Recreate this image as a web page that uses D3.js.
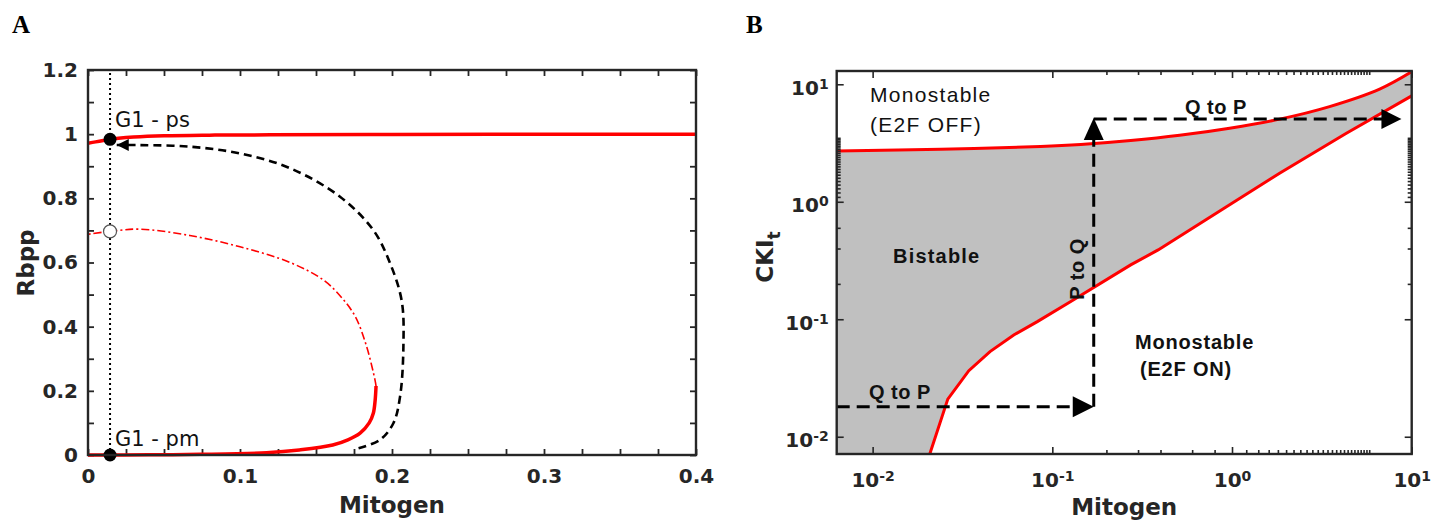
<!DOCTYPE html>
<html><head><meta charset="utf-8">
<script src="https://cdn.jsdelivr.net/npm/d3@7"></script>
<style>
body{margin:0;background:#fff}
svg{display:block}
</style></head>
<body>
<svg id="c" width="1445" height="520"></svg>
<script>
// ---------- Panel A data ----------
const aXLabels = [0, 0.1, 0.2, 0.3, 0.4];
const aXTicks = [0,0.025,0.05,0.075,0.1,0.125,0.15,0.175,0.2,0.225,0.25,0.275,0.3,0.325,0.35,0.375,0.4];
const aYLabels = [0, 0.2, 0.4, 0.6, 0.8, 1, 1.2];
const aYTicks = [0,0.1,0.2,0.3,0.4,0.5,0.6,0.7,0.8,0.9,1,1.1,1.2];
// stable upper branch (mitogen, Rbpp)
const aUpperStable = [[0,0.972],[0.005,0.976],[0.01,0.980],[0.015,0.984],[0.02,0.987],[0.03,0.991],[0.05,0.995],[0.08,0.997],[0.12,0.998],[0.2,0.999],[0.3,1.0],[0.4,1.0]];
// stable lower branch
const aLowerStable = [[0,0],[0.04,0.0005],[0.0737,0.002],[0.1175,0.007],[0.139,0.0156],[0.161,0.031],[0.171,0.047],[0.179,0.068],[0.185,0.10],[0.1877,0.13],[0.1889,0.17],[0.1895,0.215]];
// unstable branch
const aUnstable = [[0.1895,0.215],[0.1888,0.234],[0.1833,0.338],[0.176,0.43],[0.167,0.49],[0.155,0.545],[0.133,0.60],[0.1,0.649],[0.067,0.684],[0.034,0.704],[0.0145,0.697],[0,0.688]];
// trajectory (black dashed)
const aTrajectory = [[0.178,0.021],[0.192,0.047],[0.2009,0.099],[0.2053,0.182],[0.2075,0.338],[0.2064,0.48],[0.1987,0.598],[0.1877,0.701],[0.1658,0.805],[0.1329,0.894],[0.1,0.940],[0.0671,0.961],[0.0342,0.966],[0.0189,0.966]];
const aG1Mitogen = 0.0145;
const aG1ps = 0.984, aG1pm = 0.0, aUnstablePt = 0.697;

// ---------- Panel B data ----------
const bXLabels = [0.01, 0.1, 1, 10];
const bXLabelExp = ["-2", "-1", "0", "1"];
const bXMinor = [0.2,0.3,0.4,0.6,0.8,1.2,1.4,1.6,1.8,2,2.2,2.4,2.6,2.8,3,3.2,3.4,3.6,3.8,4,4.2,4.4,4.6,4.8,5,5.2,5.4,5.6,5.8];
const bYLabels = [0.01, 0.1, 1, 10];
const bYLabelExp = ["-2", "-1", "0", "1"];
const bYMinor = [0.2,0.4,0.6,1.1,1.2,1.3,1.4,1.5,1.6,1.7,1.8,1.9,2,2.1,2.2,2.3,2.4,2.5,2.6,2.7,2.8,2.9,3,3.1,3.2,3.3,3.4,3.5];
const bXDomain = [0.00631, 10];
const bYDomain = [0.00713, 12.97];
// boundaries of bistable region (mitogen, CKIt)
const bUpper = [[0.00631,2.71],[0.024,2.80],[0.086,2.95],[0.144,3.07],[0.273,3.32],[0.511,3.68],[0.97,4.23],[1.84,5.05],[3.49,6.46],[6.63,9.1],[10,12.8]];
const bLower = [[0.0208,0.00713],[0.0262,0.0209],[0.0343,0.0365],[0.045,0.053],[0.061,0.0735],[0.0825,0.0955],[0.126,0.141],[0.273,0.29],[0.388,0.389],[1.0,0.97],[1.84,1.75],[4.33,3.83],[10,7.96]];
// arrow path: Q->P (low), P->Q (up), Q->P (high)
const bArrowX = [0.00631, 0.17, 8.77];
const bArrowY = [0.018, 5.06];

// ---------- drawing ----------
const svg = d3.select("#c");
const INK = "#262626";
const SANS = "'DejaVu Sans', sans-serif";
const ARIAL = "'Liberation Sans', Arial, sans-serif";

// ===== Panel A =====
const xA = d3.scaleLinear().domain([0, 0.4]).range([88, 696]);
const yA = d3.scaleLinear().domain([0, 1.2]).range([455, 70]);
const gA = svg.append("g");
const isIn = (arr, d) => arr.some(v => Math.abs(v - d) < 1e-9);
const fmtA = d => isIn(aXLabels, d) ? d3.format("~g")(d) : "";
const fmtAY = d => isIn(aYLabels, d) ? d3.format("~g")(d) : "";

function styleAxis(g) {
  g.select(".domain").remove();
  g.selectAll(".tick line").attr("stroke", INK).attr("stroke-width", 1.8);
  g.selectAll("text").attr("fill", INK).style("font-family", SANS).style("font-weight", "bold");
}
gA.append("g").attr("transform", "translate(0,455)")
  .call(d3.axisBottom(xA).tickValues(aXTicks).tickSize(-6).tickPadding(14).tickFormat(fmtA))
  .call(styleAxis).selectAll("text").style("font-size", "20px");
gA.append("g").attr("transform", "translate(0,70)")
  .call(d3.axisTop(xA).tickValues(aXTicks).tickSize(-6).tickFormat(""))
  .call(styleAxis);
gA.append("g").attr("transform", "translate(88,0)")
  .call(d3.axisLeft(yA).tickValues(aYTicks).tickSize(-6).tickPadding(10).tickFormat(fmtAY))
  .call(styleAxis).selectAll("text").style("font-size", "20px");
gA.append("g").attr("transform", "translate(696,0)")
  .call(d3.axisRight(yA).tickValues(aYTicks).tickSize(-6).tickFormat(""))
  .call(styleAxis);

const lineA = d3.line().x(d => xA(d[0])).y(d => yA(d[1])).curve(d3.curveCatmullRom.alpha(0.5));
gA.append("path").attr("d", lineA(aUnstable)).attr("fill", "none").attr("stroke", "#ff0000")
  .attr("stroke-width", 1.6).attr("stroke-dasharray", "8,3,2,3");
gA.append("path").attr("d", lineA(aUpperStable)).attr("fill", "none").attr("stroke", "#ff0000").attr("stroke-width", 3.5);
gA.append("path").attr("d", lineA(aLowerStable)).attr("fill", "none").attr("stroke", "#ff0000").attr("stroke-width", 3.5);
gA.append("path").attr("d", lineA(aTrajectory)).attr("fill", "none").attr("stroke", "#000")
  .attr("stroke-width", 2.6).attr("stroke-dasharray", "8,5");
// arrow head of trajectory
{
  const p = aTrajectory[aTrajectory.length - 1];
  const tx = xA(p[0]), ty = yA(p[1]);
  gA.append("path").attr("d", `M${tx},${ty}L${tx + 12},${ty - 6}L${tx + 12},${ty + 6}Z`).attr("fill", "#000");
}
// dotted vertical line
gA.append("line").attr("x1", xA(aG1Mitogen)).attr("x2", xA(aG1Mitogen))
  .attr("y1", yA(0)).attr("y2", yA(1.2)).attr("stroke", "#000").attr("stroke-width", 2).attr("stroke-dasharray", "2,3");
gA.append("circle").attr("cx", xA(aG1Mitogen)).attr("cy", yA(aUnstablePt)).attr("r", 6.5)
  .attr("fill", "#fff").attr("stroke", "#555").attr("stroke-width", 1.2);
gA.append("circle").attr("cx", xA(aG1Mitogen)).attr("cy", yA(aG1ps)).attr("r", 6.5).attr("fill", "#000");
gA.append("circle").attr("cx", xA(aG1Mitogen)).attr("cy", yA(aG1pm)).attr("r", 6.5).attr("fill", "#000");
gA.append("text").attr("x", 115).attr("y", 127).text("G1 - ps")
  .style("font-family", SANS).style("font-size", "21px").attr("fill", "#111");
gA.append("text").attr("x", 115).attr("y", 446).text("G1 - pm")
  .style("font-family", SANS).style("font-size", "21px").attr("fill", "#111");
// box
gA.append("rect").attr("x", 88).attr("y", 70).attr("width", 608).attr("height", 385)
  .attr("fill", "none").attr("stroke", INK).attr("stroke-width", 2.4);
// axis titles
gA.append("text").attr("x", 392).attr("y", 513).attr("text-anchor", "middle").text("Mitogen")
  .style("font-family", SANS).style("font-weight", "bold").style("font-size", "23px").attr("fill", INK);
gA.append("text").attr("transform", "translate(34,263) rotate(-90)").attr("text-anchor", "middle").text("Rbpp")
  .style("font-family", SANS).style("font-weight", "bold").style("font-size", "23px").attr("fill", INK);
svg.append("text").attr("x", 12).attr("y", 33).text("A")
  .style("font-family", "'Liberation Serif', 'Times New Roman', serif").style("font-weight", "bold").style("font-size", "25px");

// ===== Panel B =====
const L = 836.7, R = 1411.7, T = 71, B = 454;
const xB = d3.scaleLog().domain(bXDomain).range([L, R]);
const yB = d3.scaleLog().domain(bYDomain).range([B, T]);
const gB = svg.append("g");
svg.append("clipPath").attr("id", "clipB").append("rect").attr("x", L).attr("y", T).attr("width", R - L).attr("height", B - T);
const gBp = gB.append("g").attr("clip-path", "url(#clipB)");

const lineUp = d3.line().x(d => xB(d[0])).y(d => yB(d[1])).curve(d3.curveCatmullRom.alpha(0.5));
const lineLo = d3.line().x(d => xB(d[0])).y(d => yB(d[1]));
const fillPath = lineUp(bUpper) +
  bLower.slice().reverse().map(p => `L${xB(p[0])},${yB(p[1])}`).join("") +
  `L${xB(bXDomain[0])},${yB(bYDomain[0])}Z`;
gBp.append("path").attr("d", fillPath).attr("fill", "#c0c0c0");
gBp.append("path").attr("d", lineUp(bUpper)).attr("fill", "none").attr("stroke", "#ff0000").attr("stroke-width", 3);
gBp.append("path").attr("d", lineLo(bLower)).attr("fill", "none").attr("stroke", "#ff0000").attr("stroke-width", 3);

// dashed arrows
const dash = "13,7";
const ax0 = xB(bArrowX[0]), ax1 = xB(bArrowX[1]), ax2 = xB(bArrowX[2]);
const ay0 = yB(bArrowY[0]), ay1 = yB(bArrowY[1]);
gBp.append("line").attr("x1", ax0).attr("y1", ay0).attr("x2", ax1 - 18).attr("y2", ay0)
  .attr("stroke", "#000").attr("stroke-width", 3).attr("stroke-dasharray", dash);
gBp.append("line").attr("x1", ax1).attr("y1", ay0).attr("x2", ax1).attr("y2", ay1 + 20)
  .attr("stroke", "#000").attr("stroke-width", 3).attr("stroke-dasharray", dash);
gBp.append("line").attr("x1", ax1).attr("y1", ay1).attr("x2", ax2 - 18).attr("y2", ay1)
  .attr("stroke", "#000").attr("stroke-width", 3).attr("stroke-dasharray", dash);
gBp.append("path").attr("d", `M${ax1},${ay0}L${ax1 - 21},${ay0 - 10.5}L${ax1 - 21},${ay0 + 10.5}Z`).attr("fill", "#000");
gBp.append("path").attr("d", `M${ax1},${ay1 - 1}L${ax1 - 10},${ay1 + 21}L${ax1 + 10},${ay1 + 21}Z`).attr("fill", "#000");
gBp.append("path").attr("d", `M${ax2},${ay1}L${ax2 - 20},${ay1 - 10}L${ax2 - 20},${ay1 + 10}Z`).attr("fill", "#000");

// region labels
function lbl(x, y, s, bold, ls, fs) {
  return gB.append("text").attr("x", x).attr("y", y).text(s).attr("fill", "#111")
    .style("font-family", ARIAL).style("font-size", (fs || 20) + "px")
    .style("font-weight", bold ? "bold" : "normal").style("letter-spacing", ls + "px");
}
lbl(870, 102, "Monostable", false, 1.3, 21);
lbl(870, 132, "(E2F OFF)", false, 1.3, 21);
lbl(893, 263, "Bistable", true, 1.2);
lbl(1135, 349, "Monostable", true, 0.8);
lbl(1140, 376, "(E2F ON)", true, 0.8);
lbl(1185, 114, "Q to P", true, 0.5);
lbl(869, 399, "Q to P", true, 0.5);
gB.append("text").attr("transform", "translate(1084,269) rotate(-90)").attr("text-anchor", "middle")
  .text("P to Q").attr("fill", "#111").style("font-family", ARIAL).style("font-size", "20px")
  .style("font-weight", "bold").style("letter-spacing", "0.5px");

// axes B
function styleB(g) {
  g.select(".domain").remove();
  g.selectAll(".tick line").attr("stroke", INK).attr("stroke-width", 1.6);
}
function expLabels(g, exps, labels) {
  g.selectAll(".tick text").each(function(d) {
    const i = labels.findIndex(v => Math.abs(v - d) / v < 1e-6);
    const t = d3.select(this).text(null).attr("fill", INK)
      .style("font-family", SANS).style("font-weight", "bold").style("font-size", "20px");
    t.append("tspan").text("10");
    t.append("tspan").attr("dy", "-0.42em").style("font-size", "14px").text(exps[i]);
  });
}
gB.append("g").attr("transform", `translate(0,${B})`)
  .call(d3.axisBottom(xB).tickValues(bXLabels).tickSize(-7).tickPadding(19))
  .call(styleB).call(g => expLabels(g, bXLabelExp, bXLabels));
gB.append("g").attr("transform", `translate(0,${B})`)
  .call(d3.axisBottom(xB).tickValues(bXMinor).tickSize(-4).tickFormat(""))
  .call(styleB);
gB.append("g").attr("transform", `translate(0,${T})`)
  .call(d3.axisTop(xB).tickValues(bXLabels).tickSize(-7).tickFormat(""))
  .call(styleB);
gB.append("g").attr("transform", `translate(0,${T})`)
  .call(d3.axisTop(xB).tickValues(bXMinor).tickSize(-4).tickFormat(""))
  .call(styleB);
gB.append("g").attr("transform", `translate(${L},0)`)
  .call(d3.axisLeft(yB).tickValues(bYLabels).tickSize(-7).tickPadding(8))
  .call(styleB).call(g => { expLabels(g, bYLabelExp, bYLabels); g.selectAll(".tick text").attr("dy", "0.5em"); });
gB.append("g").attr("transform", `translate(${L},0)`)
  .call(d3.axisLeft(yB).tickValues(bYMinor).tickSize(-4).tickFormat(""))
  .call(styleB);
gB.append("g").attr("transform", `translate(${R},0)`)
  .call(d3.axisRight(yB).tickValues(bYLabels).tickSize(-7).tickFormat(""))
  .call(styleB);
gB.append("g").attr("transform", `translate(${R},0)`)
  .call(d3.axisRight(yB).tickValues(bYMinor).tickSize(-4).tickFormat(""))
  .call(styleB);
gB.append("rect").attr("x", L).attr("y", T).attr("width", R - L).attr("height", B - T)
  .attr("fill", "none").attr("stroke", INK).attr("stroke-width", 2.4);

gB.append("text").attr("x", (L + R) / 2).attr("y", 515).attr("text-anchor", "middle").text("Mitogen")
  .style("font-family", SANS).style("font-weight", "bold").style("font-size", "23px").attr("fill", INK);
{
  const t = gB.append("text").attr("transform", "translate(773,257) rotate(-90)").attr("text-anchor", "middle")
    .style("font-family", SANS).style("font-weight", "bold").style("font-size", "23px").attr("fill", INK);
  t.append("tspan").text("CKI");
  t.append("tspan").attr("dy", "7").style("font-size", "17px").text("t");
}
svg.append("text").attr("x", 746).attr("y", 33).text("B")
  .style("font-family", "'Liberation Serif', 'Times New Roman', serif").style("font-weight", "bold").style("font-size", "25px");
</script>
</body></html>
